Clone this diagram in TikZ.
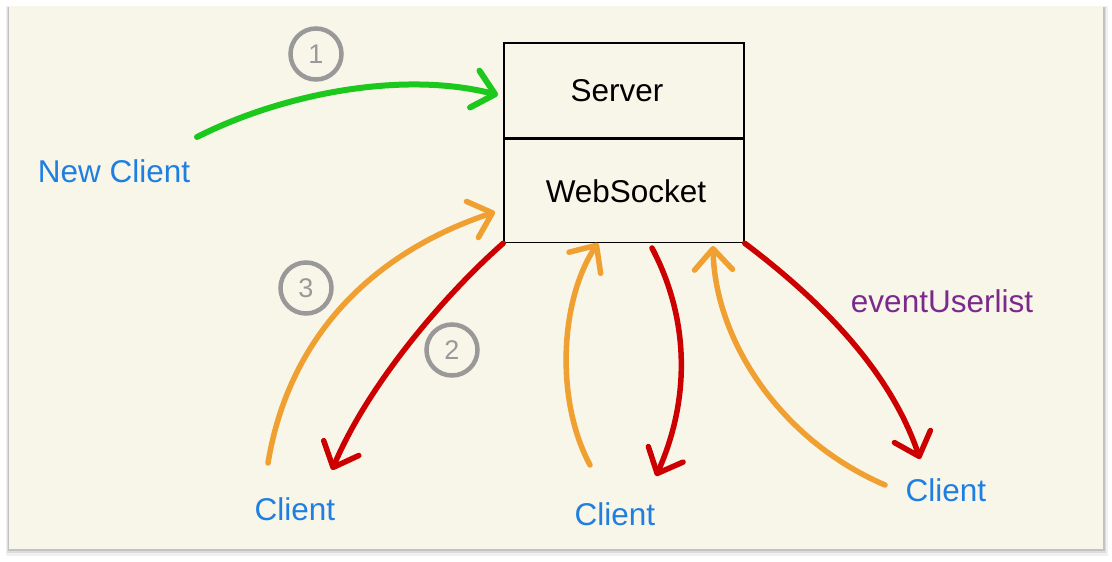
\documentclass[tikz,border=0pt]{standalone}
\usepackage{fontspec}
\setmainfont{Liberation Sans}
\usetikzlibrary{arrows.meta}
\definecolor{cream}{HTML}{F8F5E9}
\definecolor{cgreen}{HTML}{1CC81C}
\definecolor{corange}{HTML}{F0A030}
\definecolor{cred}{HTML}{CC0000}
\definecolor{cblue}{HTML}{1E7FE0}
\definecolor{cpurple}{HTML}{7B2A8C}
\definecolor{cgray}{HTML}{999999}
\tikzset{
  boxpart/.style={draw=black, line width=1.5pt, minimum width=240pt, inner sep=0pt, font=\fontsize{31.5}{36}\selectfont},
  lbl/.style={font=\fontsize{31.5}{36}\selectfont, text=cblue, inner sep=0pt},
  numc/.style={circle, draw=cgray, line width=4.5pt, minimum size=51pt, inner sep=0pt, text=cgray, font=\fontsize{27}{30}\selectfont},
  conn/.style={line width=5.5pt, line cap=round, -{Straight Barb[length=21pt,width=38pt,line cap=round,line join=round]}},
}
\begin{document}
\begin{tikzpicture}[x=1pt,y=-1pt]
\useasboundingbox (0,0) rectangle (1112,562);
\fill[white] (0,0) rectangle (1112,562);
% shadow
\fill[black,opacity=0.06] (6,6) rectangle (1108,556);
\fill[black,opacity=0.08] (7,7) rectangle (1106,553);
\fill[black,opacity=0.12] (8,7) rectangle (1105,551);
\fill[cream] (9,6) rectangle (1103,549);
% server box
\node[boxpart, minimum height=95pt] (server) at (624,90.5) {Server\kern14pt};
\node[boxpart, minimum height=103pt, anchor=north] (ws) at (server.south) {\kern4pt WebSocket};
% labels
\node[lbl] (newc) at (114,171) {New Client};
\node[lbl] (c1) at (295,509) {Client};
\node[lbl] (c2) at (615,514) {Client};
\node[lbl] (c3) at (946,490) {Client};
\node[lbl, text=cpurple] (evt) at (942,301) {eventUserlist};
% number circles
\node[numc] (n1) at (316,54) {1};
\node[numc] (n3) at (306,288) {3};
\node[numc] (n2) at (452,350) {2};
% endpoints
\coordinate (g0) at (197,137);
\coordinate (g1) at (498,95);
\coordinate (o1a) at (268,463);
\coordinate (o1b) at (495,212);
\coordinate (o2a) at (590,465);
\coordinate (o2b) at (598,243);
\coordinate (o3a) at (885,485);
\coordinate (o3b) at (713,246);
\coordinate (r2a) at (652,248);
\coordinate (r2b) at (656,476);
\coordinate (r3b) at (920,459);
\coordinate (r1b) at (332,470);
% connectors
\draw[conn, draw=cgreen, line width=6pt] (g0) .. controls (280,95) and (400,70) .. (g1);
\draw[conn, draw=corange] (o1a) .. controls (290,330) and (380,250) .. (o1b);
\draw[conn, draw=cred] (ws.south west) .. controls (450,290) and (370,380) .. (r1b);
\draw[conn, draw=corange] (o2a) .. controls (555,400) and (560,300) .. (o2b);
\draw[conn, draw=cred] (r2a) .. controls (690,320) and (690,400) .. (r2b);
\draw[conn, draw=corange] (o3a) .. controls (780,440) and (715,340) .. (o3b);
\draw[conn, draw=cred] (ws.south east) .. controls (820,300) and (890,370) .. (r3b);
\end{tikzpicture}
\end{document}
